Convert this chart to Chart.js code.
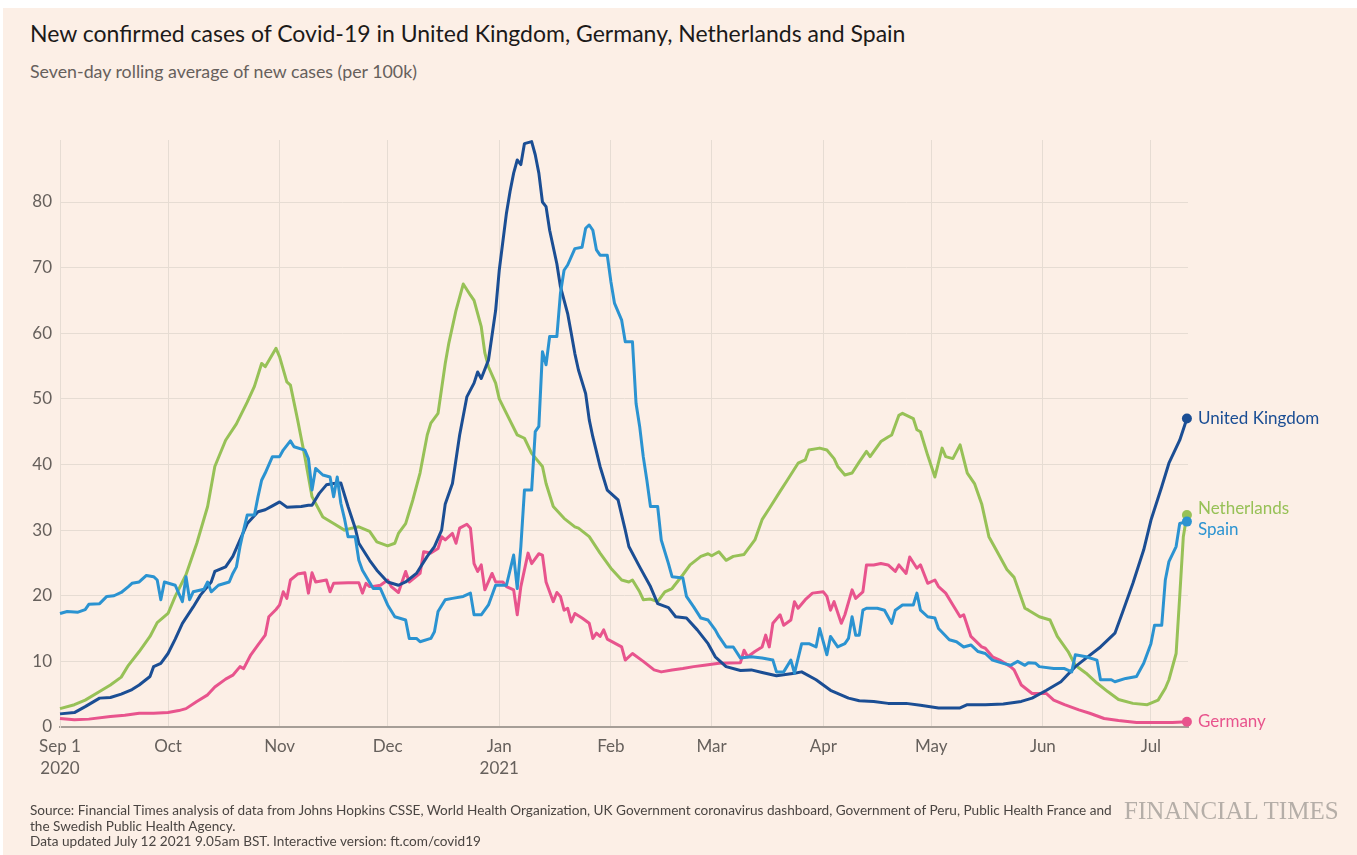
<!DOCTYPE html>
<html lang="en">
<head>
  <meta charset="UTF-8" />
  <title>New confirmed cases of Covid-19</title>
  <script src="https://cdn.jsdelivr.net/npm/chart.js"></script>
  <style>
    html, body {
      margin: 0;
      padding: 0;
      background: #ffffff;
      width: 1357px;
      height: 855px;
      overflow: hidden;
    }

    .page {
      position: absolute;
      left: 3px;
      top: 8px;
      right: 0;
      bottom: 0;
      background: #fcefe6;
      font-family: 'Lato', 'Open Sans', sans-serif;
    }

    .title {
      position: absolute;
      left: 27px;
      top: 11px;
      font-size: 23px;
      color: #1c1a19;
      white-space: nowrap;
    }

    .subtitle {
      position: absolute;
      left: 27px;
      top: 52px;
      font-size: 17.8px;
      color: #66605c;
      white-space: nowrap;
    }

    .chart-box {
      position: absolute;
      left: -3px;
      top: 112px;
      width: 1357px;
      height: 690px;
    }

    .source {
      position: absolute;
      left: 27px;
      top: 795px;
      font-size: 13.6px;
      line-height: 15.5px;
      color: #4a4542;
      white-space: nowrap;
    }

    .brand {
      position: absolute;
      left: 1121px;
      top: 789px;
      font-family: 'Liberation Serif', 'DejaVu Serif', serif;
      font-size: 25px;
      color: #b5aea8;
      white-space: nowrap;
    }
  </style>
</head>
<body>
  <div class="page">
    <div class="title">New confirmed cases of Covid-19 in United Kingdom, Germany, Netherlands and Spain</div>
    <div class="subtitle">Seven-day rolling average of new cases (per 100k)</div>
    <div class="chart-box"><canvas id="casesChart"></canvas></div>
    <div class="source">
      Source: Financial Times analysis of data from Johns Hopkins CSSE, World Health Organization, UK Government coronavirus dashboard, Government of Peru, Public Health France and<br />
      the Swedish Public Health Agency.<br />
      Data updated July 12 2021 9.05am BST. Interactive version: ft.com/covid19
    </div>
    <div class="brand">FINANCIAL TIMES</div>
  </div>

  <script>
    // x values are days since Sep 1 2020
    const monthDays = [0, 30, 61, 91, 122, 153, 181, 212, 242, 273, 303];
    const monthLabels = [['Sep 1', '2020'], 'Oct', 'Nov', 'Dec', ['Jan', '2021'], 'Feb', 'Mar', 'Apr', 'May', 'Jun', 'Jul'];
    const countries = ['United Kingdom', 'Netherlands', 'Spain', 'Germany'];

    // [day, cases per 100k]
    const ukCases = [
      [0, 2.0], [4, 2.2], [7, 3.1], [11, 4.4], [14, 4.5], [17, 5.0], [20, 5.7], [22, 6.4], [25, 7.7], [26, 9.2],
      [28, 9.7], [30, 11.2], [32, 13.4], [34, 15.8], [37, 18.3], [39, 20.1], [42, 22.1], [43, 23.7], [46, 24.4], [48, 26],
      [50, 28.5], [52, 31], [55, 32.8], [57, 33.1], [59, 33.7], [61, 34.3], [63, 33.5], [67, 33.6], [69, 33.8], [70, 33.8],
      [72, 35.6], [74, 36.9], [76, 37.1], [78, 37.2], [80, 33.6], [82, 30.3], [83, 28], [86, 25.4], [88, 23.9], [91, 22.1],
      [94, 21.6], [96, 22.1], [99, 23.4], [102, 26], [104, 27.5], [106, 30], [107, 34], [109, 37.1], [111, 44.5], [113, 50.3],
      [115, 52.4], [116, 54.1], [117, 53.1], [119, 55.9], [121, 63.5], [122, 69.6], [124, 78.3], [125, 81.6], [126, 84.4], [127, 86.4],
      [128, 85.7], [129, 88.9], [131, 89.2], [132, 87.2], [133, 84.4], [134, 80], [135, 79.3], [136, 75.7], [138, 70.6], [139, 67.1],
      [141, 63], [142, 60], [143, 56.9], [144, 54.4], [146, 50.8], [147, 46.8], [148, 44.2], [150, 39.7], [152, 36.1], [155, 34.6],
      [157, 30], [158, 27.5], [161, 24.4], [164, 21.4], [166, 18.8], [169, 18.2], [171, 16.8], [174, 16.6], [177, 14.8], [180, 12.7],
      [182, 10.7], [185, 9.2], [189, 8.6], [192, 8.7], [195, 8.3], [199, 7.8], [204, 8.2], [206, 8.4], [210, 7.2], [214, 5.6],
      [219, 4.4], [222, 4.0], [226, 3.9], [230, 3.6], [235, 3.6], [239, 3.3], [244, 2.9], [250, 2.9], [252, 3.4], [257, 3.4],
      [262, 3.5], [267, 3.9], [270, 4.4], [274, 5.6], [278, 6.9], [282, 9.2], [285, 10.5], [289, 12.2], [293, 14.3], [295, 17.3],
      [298, 21.9], [301, 27], [303, 31.5], [306, 36.6], [308, 40.2], [311, 43.7], [313, 47.0]
    ];

    const nlCases = [
      [0, 2.8], [4, 3.4], [7, 4.1], [11, 5.4], [14, 6.4], [17, 7.6], [19, 9.4], [22, 11.5], [25, 13.8], [27, 15.9],
      [30, 17.3], [32, 19.9], [35, 23.2], [38, 28], [41, 33.6], [43, 39.7], [46, 43.7], [49, 46.2], [52, 49.5], [54, 51.9],
      [56, 55.4], [57, 54.9], [60, 57.7], [61, 56.4], [63, 52.6], [64, 52.1], [66, 46.8], [67, 44], [68, 41.2], [70, 35.1],
      [73, 32], [76, 31], [79, 30], [81, 30.3], [83, 30.5], [86, 29.8], [88, 28.2], [91, 27.6], [93, 28], [94, 29.5],
      [96, 31], [98, 34.6], [100, 38.7], [102, 44.5], [103, 46.3], [105, 47.8], [107, 55.4], [108, 58.5], [110, 63.5], [112, 67.5],
      [114, 65.8], [115, 65], [117, 61], [118, 57], [119, 54.9], [121, 52.4], [122, 50], [124, 47.8], [127, 44.5], [129, 44],
      [131, 41.7], [134, 39.7], [135, 37.1], [137, 33.6], [140, 31.8], [143, 30.5], [144, 30.3], [147, 29], [150, 26.5], [153, 24.2],
      [156, 22.4], [158, 22.1], [159, 22.4], [161, 20.6], [162, 19.4], [164, 19.5], [166, 19.1], [168, 20.6], [170, 21.1], [173, 23.2],
      [175, 24.7], [178, 26], [180, 26.4], [181, 26.1], [183, 26.7], [185, 25.4], [187, 26], [190, 26.3], [193, 28.5], [195, 31.6],
      [197, 33.3], [200, 35.9], [202, 37.6], [205, 40.2], [207, 40.7], [208, 42.2], [211, 42.5], [213, 42.2], [215, 40.9], [216, 39.7],
      [218, 38.4], [220, 38.7], [222, 40.4], [224, 42], [225, 41.2], [228, 43.5], [230, 44.2], [231, 44.5], [233, 47.5], [234, 47.8],
      [237, 47], [238, 45.3], [239, 45], [241, 41.4], [243, 38.1], [245, 42.5], [246, 41.2], [248, 40.9], [250, 43], [252, 38.7],
      [254, 37.1], [256, 34], [258, 29], [260, 27], [263, 24], [265, 22.8], [268, 18.1], [269, 17.8], [272, 16.8], [275, 16.3],
      [277, 13.8], [280, 11.5], [282, 9.4], [285, 8.2], [288, 6.7], [291, 5.4], [294, 4.2], [298, 3.6], [302, 3.4], [305, 4.1],
      [307, 5.9], [308, 7.2], [310, 11.2], [311, 19.9], [312, 29], [313, 32.3]
    ];

    const esCases = [
      [0, 17.3], [2, 17.6], [5, 17.5], [7, 17.9], [8, 18.7], [11, 18.8], [13, 19.9], [15, 20], [17, 20.5], [19, 21.4],
      [20, 21.9], [22, 22.1], [24, 23.1], [26, 22.9], [27, 22.4], [28, 19.4], [29, 22.1], [32, 21.6], [34, 19.1], [35, 22.9],
      [36, 19.4], [37, 20.6], [40, 21], [41, 22.1], [42, 20.6], [44, 21.6], [47, 22.1], [48, 23.4], [49, 24.4], [50, 27.5],
      [51, 30], [52, 32.3], [54, 32.3], [55, 35.1], [56, 37.6], [57, 38.7], [59, 41.2], [61, 41.2], [62, 42.2], [64, 43.6],
      [65, 42.7], [68, 42.2], [69, 40.9], [70, 36.1], [71, 39.4], [73, 38.4], [75, 38.1], [76, 35.1], [77, 38.1], [78, 34.1],
      [79, 31.8], [80, 29], [82, 29], [83, 25.4], [84, 23.9], [87, 21.1], [89, 21.1], [91, 18.6], [93, 16.8], [96, 16.3],
      [97, 13.5], [99, 13.5], [100, 13], [103, 13.5], [104, 14.5], [105, 17.6], [107, 19.4], [109, 19.6], [112, 19.9], [114, 20.4],
      [115, 17.1], [117, 17.1], [119, 18.6], [121, 21.6], [124, 21.6], [126, 26.2], [127, 21.1], [128, 27.5], [129, 36.1], [131, 36.1],
      [132, 45], [133, 45.8], [134, 57.2], [135, 55.2], [136, 59.5], [138, 59.5], [139, 66.1], [140, 69.6], [141, 70.4], [143, 72.9],
      [145, 73.1], [146, 76], [147, 76.5], [148, 75.7], [149, 72.7], [150, 71.9], [152, 71.9], [153, 67.9], [154, 64.6], [156, 62],
      [157, 58.7], [159, 58.7], [160, 49.3], [161, 45.8], [162, 41.2], [163, 37.6], [164, 33.6], [166, 33.6], [167, 28.5], [169, 24.9],
      [170, 22.9], [173, 22.7], [174, 19.9], [176, 18.3], [178, 16.6], [180, 16.3], [182, 14.8], [183, 13.8], [185, 12.2], [187, 12.2],
      [189, 10.5], [192, 10.7], [195, 10.5], [198, 10.2], [199, 8.4], [201, 8.4], [203, 10.2], [204, 8.2], [206, 12.7], [208, 12.7],
      [210, 12.2], [211, 15], [213, 11], [214, 13.8], [216, 12.2], [218, 12.7], [219, 13.5], [220, 16.8], [221, 14], [222, 14],
      [223, 17.8], [224, 18.1], [227, 18.1], [229, 17.8], [231, 15.8], [232, 17.8], [234, 18.6], [237, 18.6], [238, 20.4], [239, 17.8],
      [241, 16.8], [243, 16.6], [244, 15], [247, 13.3], [249, 13], [251, 12.2], [253, 12.5], [255, 11.5], [257, 11.2], [259, 10.2],
      [262, 9.7], [264, 9.4], [266, 10], [268, 9.4], [269, 9.8], [271, 9.7], [272, 9.2], [276, 8.9], [279, 8.9], [281, 8.4],
      [282, 11], [285, 10.7], [288, 10.2], [289, 7.2], [292, 7.2], [293, 6.9], [296, 7.4], [299, 7.7], [301, 9.7], [303, 12.7],
      [304, 15.5], [306, 15.5], [307, 22.4], [308, 25.2], [310, 27.5], [311, 31], [313, 31.3]
    ];

    const deCases = [
      [0, 1.3], [4, 1.1], [8, 1.2], [14, 1.6], [18, 1.8], [22, 2.1], [26, 2.1], [30, 2.2], [33, 2.5], [35, 2.8],
      [38, 3.9], [41, 4.9], [43, 6.1], [46, 7.3], [48, 7.9], [50, 9.2], [51, 8.9], [53, 11], [55, 12.5], [57, 14],
      [58, 16.8], [60, 17.9], [61, 18.6], [62, 20.6], [63, 19.6], [64, 22.4], [66, 23.3], [68, 23.5], [69, 20.4], [70, 23.5],
      [71, 22.1], [74, 22.4], [75, 20.6], [76, 21.9], [80, 22], [83, 22], [84, 20.4], [85, 21.9], [86, 21.4], [87, 21.4],
      [89, 21.6], [91, 22.4], [92, 21.4], [94, 20.5], [96, 23.7], [97, 22.1], [100, 23.4], [101, 26.7], [103, 26.5], [105, 27.2],
      [106, 29], [107, 28.5], [109, 29.5], [110, 28], [111, 30.3], [113, 30.9], [114, 30.3], [115, 24.9], [116, 23.7], [117, 24.7],
      [118, 20.9], [120, 23.4], [121, 22.1], [123, 22.1], [124, 21.4], [126, 20.9], [127, 17.1], [128, 21.4], [130, 26.5], [131, 24.9],
      [133, 26.4], [134, 26.2], [135, 22.1], [137, 19.1], [138, 20.5], [139, 19.9], [140, 17.8], [141, 18.1], [142, 16], [143, 17.3],
      [145, 16.6], [147, 15.8], [148, 13.5], [149, 14.3], [150, 13.8], [151, 14.8], [152, 13.4], [156, 12.2], [157, 10.2], [159, 11.2],
      [162, 10], [165, 8.7], [167, 8.4], [170, 8.7], [173, 8.9], [176, 9.2], [179, 9.4], [183, 9.7], [189, 9.8], [190, 11.7],
      [191, 10.7], [193, 11.5], [195, 12.2], [196, 14], [197, 12.2], [198, 15.8], [200, 17.1], [201, 15.5], [203, 16.3], [204, 19.1],
      [205, 18.1], [207, 19.4], [209, 20.4], [212, 20.6], [213, 19.9], [214, 17.8], [215, 19.1], [217, 15.8], [218, 17.1], [220, 20.9],
      [221, 19.6], [223, 20.6], [224, 24.7], [226, 24.7], [228, 24.9], [230, 24.7], [232, 23.7], [233, 24.7], [235, 23.4], [236, 25.9],
      [238, 24.2], [239, 24.7], [241, 21.9], [243, 22.4], [244, 21.4], [246, 20.4], [248, 18.6], [250, 16.8], [251, 17.1], [253, 13.8],
      [256, 12.2], [257, 12], [259, 10.7], [261, 10.2], [264, 9.2], [265, 8.7], [267, 6.4], [270, 5.1], [274, 5.1], [276, 4.1],
      [279, 3.4], [283, 2.6], [286, 2.1], [290, 1.3], [294, 1.0], [299, 0.7], [305, 0.7], [309, 0.7], [313, 0.8]
    ];

    const seriesData = [ukCases, nlCases, esCases, deCases];
    const colors = ['#1b4e94', '#97c157', '#2b93d1', '#e8548d'];
    // small vertical nudges so Netherlands and Spain labels don't collide
    const labelNudge = [0, -7, 8, 0];
    // draw order: Spain on top, then UK, Germany, Netherlands
    const drawOrder = [1, 3, 0, 2];

    const gridColor = '#e6dcd3';
    const tickColor = '#66605c';

    Chart.defaults.font.family = "'Lato', 'Open Sans', sans-serif";

    const endLabels = {
      id: 'endLabels',
      afterDatasetsDraw(chart) {
        const ctx = chart.ctx;
        ctx.save();
        ctx.font = "17px 'Lato', 'Open Sans', sans-serif";
        ctx.textBaseline = 'middle';
        ctx.textAlign = 'left';
        chart.data.datasets.forEach((ds, i) => {
          const meta = chart.getDatasetMeta(i);
          const pt = meta.data[meta.data.length - 1];
          ctx.fillStyle = colors[i];
          ctx.fillText(countries[i], pt.x + 11, pt.y + labelNudge[i]);
        });
        ctx.restore();
      }
    };

    const ctx = document.getElementById('casesChart').getContext('2d');
    new Chart(ctx, {
      type: 'line',
      data: {
        datasets: countries.map((name, i) => ({
          label: name,
          data: seriesData[i].map(p => ({ x: p[0], y: p[1] })),
          borderColor: colors[i],
          backgroundColor: colors[i],
          borderWidth: 3,
          tension: 0,
          fill: false,
          clip: false,
          order: drawOrder[i],
          borderJoinStyle: 'round',
          pointRadius: c => (c.dataIndex === seriesData[i].length - 1 ? 5 : 0),
          pointHoverRadius: 0,
          pointBorderWidth: 0
        }))
      },
      options: {
        responsive: true,
        maintainAspectRatio: false,
        devicePixelRatio: 1,
        animation: false,
        events: [],
        layout: { padding: { left: 0, right: 169, top: 20, bottom: 0 } },
        plugins: {
          legend: { display: false },
          tooltip: { enabled: false }
        },
        scales: {
          x: {
            type: 'linear',
            min: 0,
            max: 313.3,
            afterBuildTicks: axis => { axis.ticks = monthDays.map(v => ({ value: v })); },
            afterFit: scale => { scale.height = 83; },
            grid: { color: gridColor, lineWidth: 1, drawTicks: false },
            border: { color: '#a69e97', width: 2 },
            ticks: {
              autoSkip: false,
              maxRotation: 0,
              padding: 8,
              color: tickColor,
              font: { size: 17, lineHeight: 1.3 },
              callback: value => {
                const k = monthDays.indexOf(value);
                return k >= 0 ? monthLabels[k] : '';
              }
            }
          },
          y: {
            min: 0,
            max: 89.45,
            afterFit: scale => { scale.width = 60; },
            grid: { color: gridColor, lineWidth: 1, drawTicks: false },
            border: { color: gridColor, width: 1 },
            ticks: {
              stepSize: 10,
              includeBounds: false,
              padding: 8,
              color: tickColor,
              font: { size: 17 }
            }
          }
        }
      },
      plugins: [endLabels]
    });
  </script>
</body>
</html>
